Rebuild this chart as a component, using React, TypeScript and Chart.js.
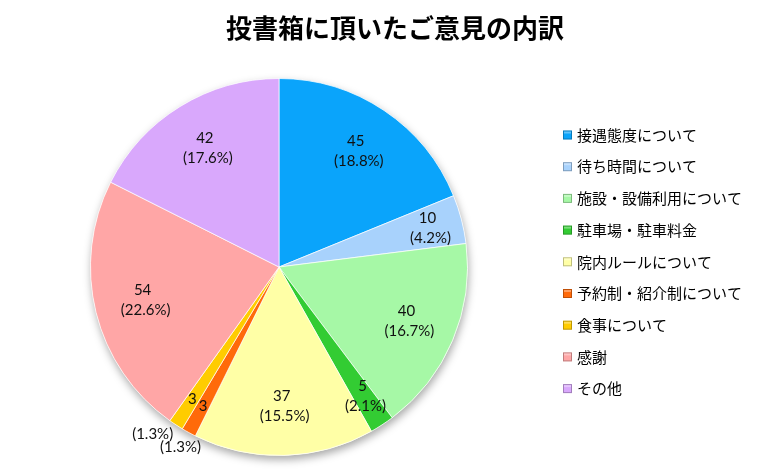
import React, { useEffect, useRef } from "react";
import { Chart, registerables } from "chart.js";

Chart.register(...registerables);

const TITLE = "投書箱に頂いたご意見の内訳";
const CATEGORIES = [
  "接遇態度について",
  "待ち時間について",
  "施設・設備利用について",
  "駐車場・駐車料金",
  "院内ルールについて",
  "予約制・紹介制について",
  "食事について",
  "感謝",
  "その他",
];
const VALUES = [45, 10, 40, 5, 37, 3, 3, 54, 42];
const COLORS = [
  "#0AA4FB",
  "#A8D2FC",
  "#A6F8A6",
  "#33CC33",
  "#FFFFA6",
  "#FF6A0A",
  "#FFCC00",
  "#FFA6A6",
  "#D9A8FC",
];

const CJK = '"Noto Sans CJK JP", "Noto Sans", sans-serif';
const LABEL_FONT = 'Lato, "Open Sans", sans-serif';

const decorPlugin = {
  id: "decor",
  beforeDatasetsDraw(chart: any) {
    const ctx = chart.ctx;
    const meta = chart.getDatasetMeta(0);
    const a = meta.data[0];
    if (!a) return;
    ctx.save();
    ctx.shadowColor = "rgba(0,0,0,0.35)";
    ctx.shadowBlur = 8;
    ctx.shadowOffsetX = 1;
    ctx.shadowOffsetY = 4;
    ctx.fillStyle = "#ffffff";
    ctx.beginPath();
    ctx.arc(a.x, a.y, a.outerRadius, 0, Math.PI * 2);
    ctx.fill();
    ctx.restore();
  },
  afterDraw(chart: any) {
    const ctx = chart.ctx;
    // title
    ctx.save();
    ctx.fillStyle = "#000";
    ctx.font = `bold 26px ${CJK}`;
    ctx.textAlign = "center";
    ctx.textBaseline = "middle";
    ctx.fillText(TITLE, 395, 28);
    ctx.restore();

    // data labels
    const meta = chart.getDatasetMeta(0);
    const data = chart.data.datasets[0].data as number[];
    const total = data.reduce((s, v) => s + v, 0);
    ctx.save();
    ctx.fillStyle = "#111";
    ctx.font = `15px ${LABEL_FONT}`;
    ctx.textAlign = "center";
    ctx.textBaseline = "middle";
    meta.data.forEach((arc: any, i: number) => {
      const v = data[i];
      const pct = "(" + ((v / total) * 100).toFixed(1) + "%)";
      const mid = (arc.startAngle + arc.endAngle) / 2;
      const r = arc.outerRadius;
      if (v / total < 0.02) {
        const k = 0.84;
        const x = arc.x + Math.cos(mid) * r * k;
        const y = arc.y + Math.sin(mid) * r * k;
        ctx.fillText(String(v), x, y);
        const k2 = 1.09;
        const ang = mid + (i === 6 ? 0.07 : 0);
        const px = arc.x + Math.cos(ang) * r * (k2 + (i === 6 ? 0.02 : 0));
        const py = arc.y + Math.sin(ang) * r * (k2 + (i === 6 ? 0.02 : 0));
        ctx.fillText(pct, px, py);
      } else {
        const k = v / total < 0.05 ? 0.82 : 0.74;
        const x = arc.x + Math.cos(mid) * r * k;
        const y = arc.y + Math.sin(mid) * r * k;
        ctx.fillText(String(v), x - 1, y - 10);
        ctx.fillText(pct, x + 2, y + 10);
      }
    });
    ctx.restore();

    // legend
    ctx.save();
    const lx = 563;
    const ly0 = 135;
    const step = 31.7;
    ctx.font = `15px ${CJK}`;
    ctx.textAlign = "left";
    ctx.textBaseline = "middle";
    (chart.data.labels as string[]).forEach((lab, i) => {
      const y = ly0 + i * step;
      const col = COLORS[i];
      ctx.fillStyle = col;
      ctx.fillRect(lx, y - 4.5, 9, 9);
      ctx.strokeStyle = "rgba(0,0,0,0.25)";
      ctx.lineWidth = 1;
      ctx.strokeRect(lx + 0.5, y - 4, 8, 8);
      ctx.fillStyle = "rgba(255,255,255,0.35)";
      ctx.fillRect(lx + 1, y - 3.5, 7, 2);
      ctx.fillStyle = "#000";
      ctx.fillText(lab, lx + 14, y);
    });
    ctx.restore();
  },
};

export default function App() {
  const ref = useRef<HTMLCanvasElement | null>(null);
  useEffect(() => {
    document.body.style.margin = "0";
    const canvas = ref.current;
    if (!canvas) return;
    const chart = new Chart(canvas, {
      type: "pie",
      data: {
        labels: CATEGORIES,
        datasets: [
          {
            data: VALUES,
            backgroundColor: COLORS,
            borderColor: "rgba(255,255,255,0.7)",
            borderWidth: 1,
            hoverOffset: 0,
          },
        ],
      },
      options: {
        responsive: false,
        animation: false,
        layout: { padding: { left: 90, right: 300, top: 78, bottom: 19 } },
        plugins: {
          legend: { display: false },
          title: { display: false },
          tooltip: { enabled: false },
        },
      },
      plugins: [decorPlugin],
    });
    return () => chart.destroy();
  }, []);
  return (
    <div style={{ width: 768, height: 475, background: "#fff" }}>
      <canvas ref={ref} width={768} height={475} />
    </div>
  );
}
